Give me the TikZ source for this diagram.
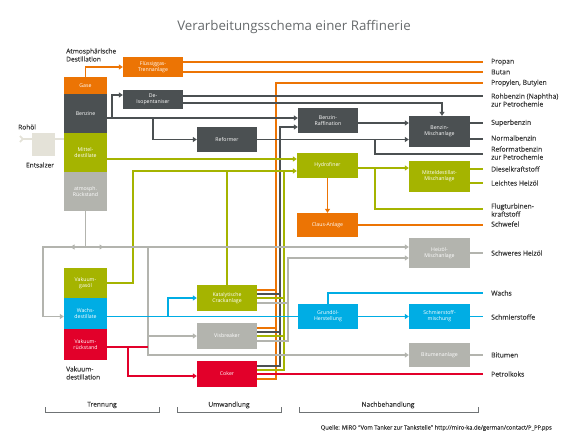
\documentclass[tikz,border=0pt]{standalone}
\usepackage{fontspec}
\setmainfont{Open Sans}
\newfontfamily\medfont{Open Sans}[FakeBold=0.5]
\usetikzlibrary{arrows.meta}
\definecolor{corange}{HTML}{EC7404}
\definecolor{cdark}{HTML}{4B5052}
\definecolor{cgreen}{HTML}{A5B400}
\definecolor{clight}{HTML}{B3B4AE}
\definecolor{cblue}{HTML}{00ADE4}
\definecolor{cred}{HTML}{E2002A}
\definecolor{cbeige}{HTML}{E4E2D8}
\definecolor{ctext}{HTML}{3A3A3A}
\pgfdeclarelayer{bg}
\pgfsetlayers{bg,main}
\tikzset{
  box/.style={rectangle, inner sep=0pt, text=white, align=center, minimum width=60pt,
    font=\fontsize{5.2}{6.2}\selectfont},
  colbox/.style={box, minimum width=43pt},
  lab/.style={anchor=west, inner sep=0pt, text=ctext, align=left, font=\medfont\fontsize{6.8}{8}\selectfont},
  lnk/.style={line width=1.8pt},
  lo/.style={lnk, draw=corange},
  ld/.style={lnk, draw=cdark},
  lg/.style={lnk, draw=cgreen},
  ll/.style={lnk, draw=clight},
  lb/.style={lnk, draw=cblue},
  lr/.style={lnk, draw=cred},
  le/.style={lnk, draw=cbeige},
  arr/.style={-{Triangle[length=4pt,width=5pt]}},
  brk/.style={draw=cdark!80, line width=0.8pt},
}
\begin{document}
\begin{tikzpicture}[x=1pt,y=-1pt]
\useasboundingbox (0,0) rectangle (582,437);
% title
\node[text=cdark!85, font=\fontsize{13.3}{15}\selectfont] (title) at (294,27) {Verarbeitungsschema einer Raffinerie};
% atmospheric column
\node[colbox, fill=corange, minimum height=17pt] (gase) at (85.5,85.5) {Gase};
\node[colbox, fill=cdark, minimum height=39pt] (benzine) at (85.5,113.5) {Benzine};
\node[colbox, fill=cgreen, minimum height=39pt] (mittel) at (85.5,152.5) {Mittel-\\destillate};
\node[colbox, fill=clight, minimum height=39pt] (rueck) at (85.5,191.5) {atmosph.\\Rückstand};
% vacuum column
\node[colbox, fill=cgreen, minimum height=30pt] (vgas) at (85.5,283) {Vakuum-\\gasöl};
\node[colbox, fill=cblue, minimum height=31pt] (wachs) at (85.5,313.5) {Wachs-\\destillate};
\node[colbox, fill=cred, minimum height=31pt] (vrueck) at (85.5,344.5) {Vakuum-\\rückstand};
% entsalzer
\node[box, fill=cbeige, minimum width=23pt, minimum height=23pt] (entsalzer) at (43.5,144.5) {};
% process boxes
\node[box, fill=corange, minimum height=20pt] (fluess) at (153,67) {Flüssiggas-\\Trennanlage};
\node[box, fill=cdark, minimum height=19pt] (deiso) at (153,99.5) {De-\\Isopentaniser};
\node[box, fill=cdark, minimum height=25pt] (reformer) at (227,139.5) {Reformer};
\node[box, fill=cdark, minimum height=25pt] (braff) at (328,120.5) {Benzin-\\Raffination};
\node[box, fill=cdark, minimum height=31pt, minimum width=61pt] (bmisch) at (439.5,131.5) {Benzin-\\Mischanlage};
\node[box, fill=cgreen, minimum height=25pt, minimum width=61pt] (hydro) at (327.5,165.5) {Hydrofiner};
\node[box, fill=corange, minimum height=24pt, minimum width=61pt] (claus) at (327.5,225) {Claus-Anlage};
\node[box, fill=cgreen, minimum height=31pt, minimum width=61pt] (mdmisch) at (439.5,176.5) {Mitteldestillat-\\Mischanlage};
\node[box, fill=clight, minimum height=30pt, minimum width=61pt] (heizoel) at (439.5,253) {Heizöl-\\Mischanlage};
\node[box, fill=cgreen, minimum height=26pt] (katcrack) at (227,298) {Katalytische\\Crackanlage};
\node[box, fill=clight, minimum height=26pt] (visb) at (227,336) {Visbreaker};
\node[box, fill=cred, minimum height=26pt] (coker) at (227,374) {Coker};
\node[box, fill=cblue, minimum height=25pt] (grundoel) at (328,316.5) {Grundöl-\\Herstellung};
\node[box, fill=cblue, minimum height=25pt, minimum width=61pt] (schmier) at (439.5,316.5) {Schmierstoff-\\mischung};
\node[box, fill=clight, minimum height=24pt, minimum width=61pt] (bitumen) at (439.5,355) {Bitumenanlage};
% left labels
\node[lab, font=\medfont\fontsize{6.6}{8}\selectfont] (latm) at (66,55) {Atmosphärische\\Destillation};
\node[lab, font=\medfont\fontsize{6.6}{8}\selectfont] (lroh) at (18,127) {Rohöl};
\node[lab, anchor=center, font=\medfont\fontsize{6.6}{8}\selectfont] (lent) at (40,165) {Entsalzer};
\node[lab, font=\medfont\fontsize{6.6}{8}\selectfont] (lvak) at (66,373) {Vakuum-\\destillation};
% right labels
\node[lab] (lpropan) at (491,62) {Propan};
\node[lab] (lbutan) at (491,72) {Butan};
\node[lab] (lpb) at (491,83) {Propylen, Butylen};
\node[lab] (lrohb) at (491,100) {Rohbenzin (Naphtha)\\zur Petrochemie};
\node[lab] (lsuper) at (491,123) {Superbenzin};
\node[lab] (lnormal) at (491,138) {Normalbenzin};
\node[lab] (lreform) at (491,153) {Reformatbenzin\\zur Petrochemie};
\node[lab] (ldiesel) at (491,169) {Dieselkraftstoff};
\node[lab] (lleicht) at (491,183) {Leichtes Heizöl};
\node[lab] (lflug) at (491,210) {Flugturbinen-\\kraftstoff};
\node[lab] (lschwefel) at (491,224) {Schwefel};
\node[lab] (lschwer) at (491,253) {Schweres Heizöl};
\node[lab] (lwachs) at (491,293) {Wachs};
\node[lab] (lschmier) at (491,317) {Schmierstoffe};
\node[lab] (lbit) at (491,355) {Bitumen};
\node[lab] (lpetrol) at (491,374) {Petrolkoks};
% line end coordinates
\coordinate (eProp) at (483,62);
\coordinate (eBut) at (483,72);
\coordinate (ePB) at (483,83);
\coordinate (eRoh) at (483,96);
\coordinate (eSuper) at (483,123);
\coordinate (eNormal) at (483,139);
\coordinate (eReform) at (483,154);
\coordinate (eDiesel) at (483,169);
\coordinate (eLeicht) at (483,183);
\coordinate (eFlug) at (483,209);
\coordinate (eSchwefel) at (483,225);
\coordinate (eSchwer) at (483,253);
\coordinate (eWachs) at (483,293);
\coordinate (eSchmier) at (483,316.5);
\coordinate (eBitumen) at (483,355);
\coordinate (ePetrol) at (483,374);
% junctions
\coordinate (rohin) at (19,139);
\coordinate (oTop) at (276,83);
\coordinate (dTop) at (280,127);
\coordinate (gTop) at (284,171);
\coordinate (lTop) at (288,258);
\coordinate (gLeft) at (133,171);
\coordinate (bJ1) at (112,118);
\coordinate (bJ2) at (153,118);
\coordinate (dJ) at (442,103);
\coordinate (rJ) at (375,139.5);
\coordinate (hJ) at (375,168);
\coordinate (rJ0) at (85.5,247);
\coordinate (rL) at (43,247);
\coordinate (vJ) at (148,247);
\coordinate (redJ) at (128,347);
\coordinate (wJ) at (168,316.5);
\begin{pgfonlayer}{bg}
% crude
\draw[le, {Straight Barb[reversed,length=3pt,width=6pt]}-] (rohin) -- (mittel.west |- rohin);
% gases
\draw[lo,arr] (gase.north) |- (fluess.west);
\draw[lo] (fluess.east |- eProp) -- (eProp);
\draw[lo] (fluess.east |- eBut) -- (eBut);
% cracker outputs orange
\draw[lo] (coker.east |- 0,379) -| (oTop) -- (ePB);
\draw[lo] (katcrack.east |- 0,290) -- (oTop |- 0,290);
\draw[lo] (visb.east |- 0,328) -- (oTop |- 0,328);
% cracker outputs dark
\draw[ld,arr] (coker.east |- 0,366) -| (dTop) -- (braff.west |- dTop);
\draw[ld] (katcrack.east |- 0,294) -- (dTop |- 0,294);
\draw[ld] (visb.east |- 0,332) -- (dTop |- 0,332);
% cracker outputs green
\draw[lg] (coker.east |- 0,370) -| (gTop);
\draw[lg] (katcrack.east |- 0,298) -- (gTop |- 0,298);
\draw[lg] (visb.east |- 0,336) -- (gTop |- 0,336);
% cracker outputs grey
\draw[ll,arr] (visb.east |- 0,341) -| (lTop) -- (heizoel.west |- lTop);
\draw[ll] (katcrack.east |- 0,303) -- (lTop |- 0,303);
% vacuum gas oil
\draw[lg,arr] (vgas.east) -| (gLeft) -- (hydro.west |- gLeft);
\draw[lg] (katcrack.north) -- (katcrack.north |- gLeft);
% middle distillates
\draw[lg,arr] (mittel.east |- 0,159) -- (hydro.west |- 0,159);
% benzine
\draw[ld,arr] (benzine.east |- bJ1) -- (braff.west |- bJ1);
\draw[ld,arr] (bJ1) |- (deiso.west |- 0,95);
\draw[ld,arr] (bJ2) |- (reformer.west);
\draw[ld] (deiso.east |- eRoh) -- (eRoh);
\draw[ld,arr] (deiso.east |- dJ) -- (dJ) -- (dJ |- bmisch.north);
\draw[ld,arr] (braff.east |- eSuper) -- (bmisch.west |- eSuper);
\draw[ld,arr] (reformer.east) -- (bmisch.west |- reformer.east);
\draw[ld] (rJ) |- (eReform);
\draw[ld] (bmisch.east |- eSuper) -- (eSuper);
\draw[ld] (bmisch.east |- eNormal) -- (eNormal);
% hydrofiner
\draw[lg,arr] (hydro.east |- hJ) -- (mdmisch.west |- hJ);
\draw[lg] (hJ) |- (eFlug);
\draw[lo,arr] (hydro.south) -- (claus.north);
\draw[lo] (claus.east) -- (eSchwefel);
\draw[lg] (mdmisch.east |- eDiesel) -- (eDiesel);
\draw[lg] (mdmisch.east |- eLeicht) -- (eLeicht);
% atmospheric residue
\draw[ll] (rueck.south) -- (rJ0);
\draw[ll,arr] (rJ0) -- (heizoel.west |- rJ0);
\draw[ll,arr] (rJ0) -- (rL) |- (wachs.west |- wJ);
\draw[ll,arr] (rJ0) -- ([xshift=-15pt]rJ0);
\draw[ll,arr] (rJ0) -- ([xshift=18pt]rJ0);
\draw[ll,arr] (vJ) |- (visb.west);
\draw[ll,arr] (vJ) |- (bitumen.west);
\draw[ll] (heizoel.east |- eSchwer) -- (eSchwer);
\draw[ll] (bitumen.east) -- (eBitumen);
% vacuum residue
\draw[lr] (vrueck.east |- redJ) -- (vJ |- redJ);
\draw[lr,arr] (redJ) |- (coker.west |- 0,376);
\draw[lr] (coker.east) -- (ePetrol);
% wax distillates
\draw[lb] (wachs.east |- wJ) -- (grundoel.west);
\draw[lb,arr] (wJ) |- (katcrack.west);
\draw[lb,arr] (grundoel.east) -- (schmier.west);
\draw[lb] (grundoel.north) |- (eWachs);
\draw[lb] (schmier.east) -- (eSchmier);
\end{pgfonlayer}
% brackets
\draw[brk] (45,407) |- (159,412) -- (159,407);
\draw[brk] (177,407) |- (281,412) -- (281,407);
\draw[brk] (299,407) |- (478,412) -- (478,407);
\node[lab, anchor=center, font=\medfont\fontsize{6.6}{8}\selectfont] (ltrenn) at (102,405) {Trennung};
\node[lab, anchor=center, font=\medfont\fontsize{6.6}{8}\selectfont] (lumw) at (229,405) {Umwandlung};
\node[lab, anchor=center, font=\medfont\fontsize{6.6}{8}\selectfont] (lnach) at (388,405) {Nachbehandlung};
\node[lab, anchor=east, font=\medfont\fontsize{5.8}{7}\selectfont] (lquelle) at (552,428) {Quelle: MiRO "Vom Tanker zur Tankstelle" http://miro-ka.de/german/contact/P\_PP.pps};
\end{tikzpicture}
\end{document}
